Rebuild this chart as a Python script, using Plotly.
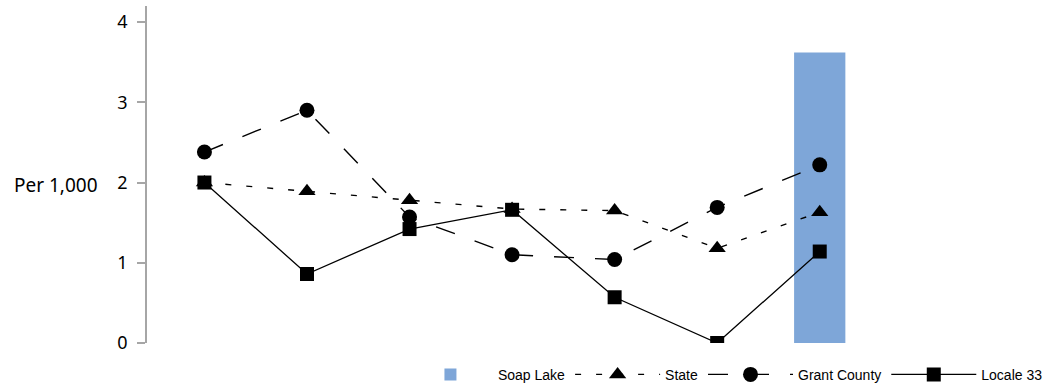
import plotly.graph_objects as go

categories = ["1", "2", "3", "4", "5", "6", "7"]
soap_lake = [None, None, None, None, None, None, 3.62]
state = [2.00, 1.89, 1.78, 1.67, 1.65, 1.18, 1.63]
grant_county = [2.38, 2.90, 1.57, 1.10, 1.04, 1.69, 2.22]
locale_33 = [2.00, 0.86, 1.42, 1.66, 0.57, 0.00, 1.14]
y_ticks = [0, 1, 2, 3, 4]

fig = go.Figure()
fig.add_trace(go.Bar(x=categories, y=soap_lake, name="Soap Lake",
                     marker=dict(color="#7ea6d8", line=dict(width=0)), width=0.5))
fig.add_trace(go.Scatter(x=categories, y=state, name="State", mode="lines+markers",
                         line=dict(color="black", width=1.4, dash="6px,15px"),
                         marker=dict(symbol="triangle-up", size=15, color="black")))
fig.add_trace(go.Scatter(x=categories, y=grant_county, name="Grant County", mode="lines+markers",
                         line=dict(color="black", width=1.4, dash="20px,21px"),
                         marker=dict(symbol="circle", size=15, color="black")))
fig.add_trace(go.Scatter(x=categories, y=locale_33, name="Locale 33", mode="lines+markers",
                         line=dict(color="black", width=1.3),
                         marker=dict(symbol="square", size=14, color="black")))

fig.update_layout(
    width=1058, height=388,
    margin=dict(l=147, r=187, t=6, b=45, autoexpand=False),
    paper_bgcolor="white", plot_bgcolor="white",
    showlegend=True,
    legend=dict(orientation="h", xref="container", yref="container",
                x=0.9905, xanchor="right", y=0.034, yanchor="middle",
                font=dict(family="Liberation Sans, Arial", size=14, color="black"),
                itemwidth=85, traceorder="normal", bgcolor="rgba(0,0,0,0)"),
    font=dict(family="Noto Sans", color="black"),
    bargap=0.5,
)
fig.update_xaxes(type="category", range=[-0.56, 6.5], showticklabels=False, showgrid=False,
                 showline=False, zeroline=False, ticks="")
fig.update_yaxes(range=[0, 4.2], tickvals=y_ticks, showgrid=False, zeroline=False,
                 showline=True, linecolor="#a6a6a6", linewidth=1.5,
                 ticks="outside", ticklen=8, tickcolor="#a6a6a6", tickwidth=1.5,
                 ticklabelstandoff=6,
                 tickfont=dict(family="Noto Sans", size=18, color="black"))
fig.add_annotation(text="Per 1,000", xref="paper", yref="paper", x=-0.1257, y=0.469,
                   xanchor="center", yanchor="middle", showarrow=False,
                   font=dict(family="Noto Sans", size=19, color="black"))

fig.write_html("out.html", config={"displayModeBar": False},
               post_script="document.body.style.margin='0';document.body.style.padding='0';")
